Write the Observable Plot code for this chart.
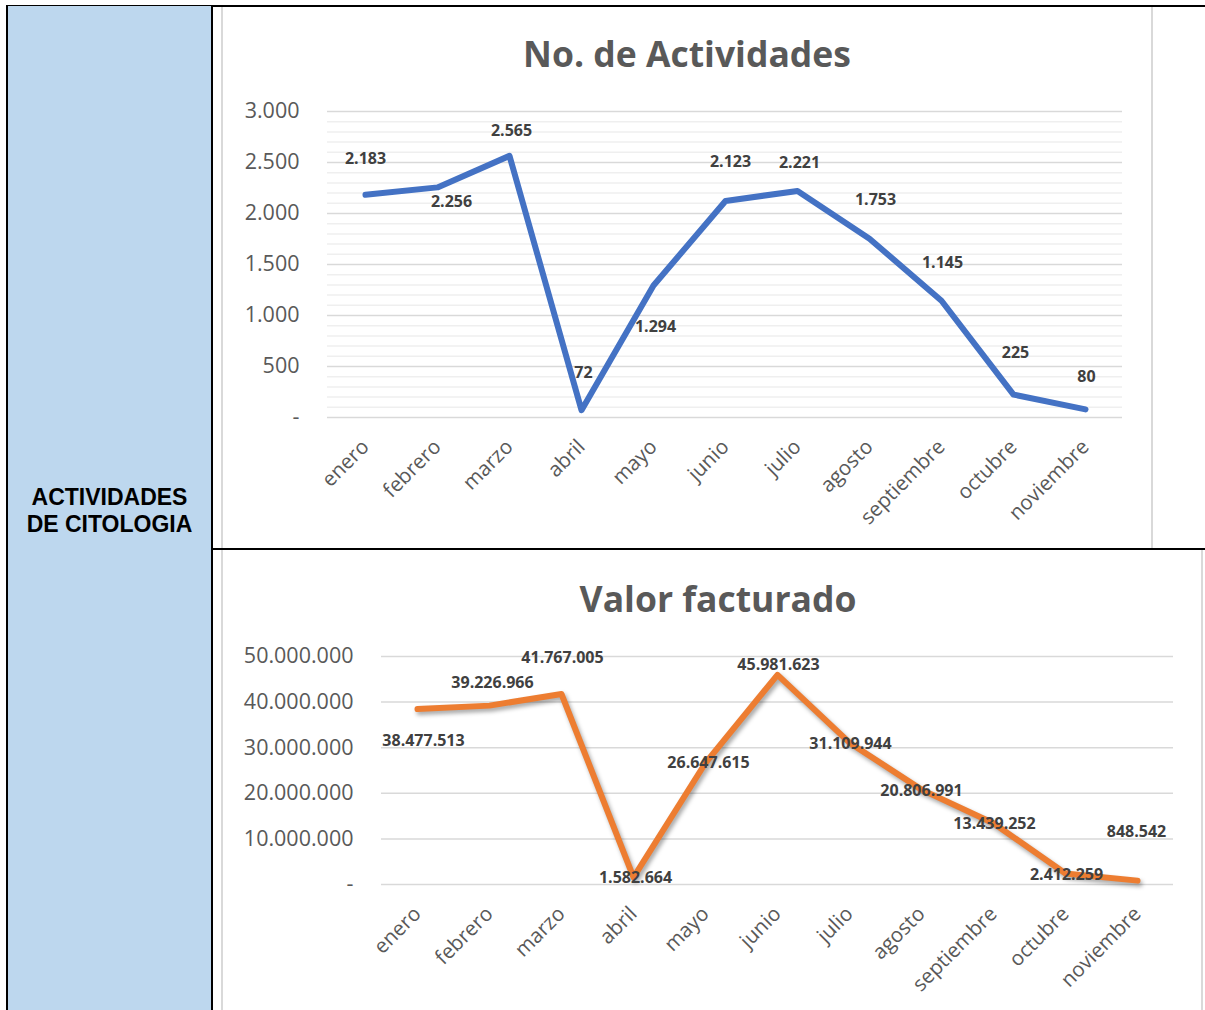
<!DOCTYPE html>
<html><head><meta charset="utf-8">
<script src="https://cdn.jsdelivr.net/npm/d3@7"></script>
<script src="https://cdn.jsdelivr.net/npm/@observablehq/plot@0.6"></script>
<style>
body{margin:0;background:#fff;width:1205px;height:1010px;overflow:hidden;position:relative;font-family:"Open Sans",sans-serif;}
.abs{position:absolute;}
.title{position:absolute;text-align:center;font-family:"Open Sans",sans-serif;font-weight:700;font-size:35.5px;line-height:40px;color:#595959;}
</style></head><body>
<div class="abs" style="left:6px;top:5px;width:1199px;height:2px;background:#000"></div>
<div class="abs" style="left:6px;top:6px;width:203px;height:1004px;background:#BDD7EE;border-left:2px solid #000;border-right:2px solid #000"></div>
<div class="abs" style="left:6px;top:484px;width:207px;text-align:center;font-family:'Liberation Sans',Arial,sans-serif;font-weight:700;font-size:23px;line-height:27px;color:#000">ACTIVIDADES<br>DE CITOLOGIA</div>
<div class="abs" style="left:221px;top:7px;width:928px;height:541px;border-left:2px solid #d9d9d9;border-right:2px solid #d9d9d9"></div>
<div class="abs" style="left:213px;top:548px;width:992px;height:2px;background:#000"></div>
<div class="abs" style="left:221px;top:550px;width:978px;height:460px;border-left:2px solid #d9d9d9;border-right:2px solid #d9d9d9"></div>
<div class="title" style="left:223px;top:33px;width:928px">No. de Actividades</div>
<div class="title" style="left:229px;top:578px;width:978px">Valor facturado</div>
<div id="c1" class="abs" style="left:221px;top:90px"></div>
<div id="c2" class="abs" style="left:221px;top:630px"></div>
<script>
const months = ["enero","febrero","marzo","abril","mayo","junio","julio","agosto","septiembre","octubre","noviembre"];
const actividades = [2183,2256,2565,72,1294,2123,2221,1753,1145,225,80];
const valorFacturado = [38477513,39226966,41767005,1582664,26647615,45981623,31109944,20806991,13439252,2412259,848542];
const actTicks = [0,500,1000,1500,2000,2500,3000];
const valTicks = [0,10000000,20000000,30000000,40000000,50000000];
// label nudges (Excel manual label placement)
const actLabelDx = [0,14,2,2,2,5,2,6,1,2,1];
const actLabelDy = [-36,14,-25,-37,41,-39,-28,-39,-38,-42,-32];
const valLabelDx = [6,3,1,2,3,1,1,0,1,1,-1];
const valLabelDy = [32,-23,-36,1,0,-10,1,1,1,1,-49];

const loc = d3.formatLocale({decimal:",", thousands:".", grouping:[3], currency:["$",""]});
const f = loc.format(",");
const fmt = v => v === 0 ? "-" : f(v);

function chart(values, ticks, minor, ldx, ldy, color, opts, shadow) {
  const data = months.map((m,i)=>({month:m, value:values[i]}));
  const marks = [];
  if (minor.length) marks.push(Plot.ruleY(minor, {stroke:"#efefef", strokeWidth:1.5}));
  marks.push(Plot.ruleY(ticks, {stroke:"#d9d9d9", strokeWidth:1.5}));
  marks.push(Plot.axisY({ticks, tickSize:0, tickPadding:28, tickFormat:fmt, fontSize:21.5, fill:"#595959"}));
  marks.push(Plot.axisX({tickSize:0, tickRotate:-45, tickPadding:26, fontSize:20.5, fill:"#595959", label:null}));
  if (shadow) marks.push(Plot.line(data, {x:"month", y:"value", stroke:"#000", strokeOpacity:0.35, strokeWidth:6, dx:2, dy:3, strokeLinecap:"round", strokeLinejoin:"round"}));
  marks.push(Plot.line(data, {x:"month", y:"value", stroke:color, strokeWidth:6, strokeLinecap:"round", strokeLinejoin:"round"}));
  data.forEach((d,i)=>marks.push(Plot.text([d], {x:"month", y:"value", text:d=>fmt(d.value), dx:ldx[i], dy:ldy[i], fontSize:16, fontWeight:700, fill:"#404040"})));
  const svg = Plot.plot({
    ...opts,
    style:{fontFamily:"'Open Sans',sans-serif", background:"transparent", overflow:"visible", color:"#595959"},
    x:{type:"point", domain:months, padding:0.5, label:null},
    y:{domain:[0, ticks[ticks.length-1]], label:null},
    marks
  });
  if (shadow) {
    const s = d3.select(svg);
    s.append("defs").append("filter").attr("id","blur").attr("x","-10%").attr("y","-10%").attr("width","120%").attr("height","120%")
      .append("feGaussianBlur").attr("stdDeviation",2);
    s.select('g[aria-label="line"]').attr("filter","url(#blur)");
  }
  return svg;
}
const minorAct = d3.range(0,3001,100).filter(v=>v%500!==0);
document.getElementById("c1").append(chart(actividades, actTicks, minorAct, actLabelDx, actLabelDy, "#4472C4",
  {width:931, height:450, marginLeft:106, marginRight:30, marginTop:21, marginBottom:123}, false));
document.getElementById("c2").append(chart(valorFacturado, valTicks, [], valLabelDx, valLabelDy, "#ED7D31",
  {width:982, height:380, marginLeft:160, marginRight:30, marginTop:26, marginBottom:126}, true));
</script>
</body></html>
